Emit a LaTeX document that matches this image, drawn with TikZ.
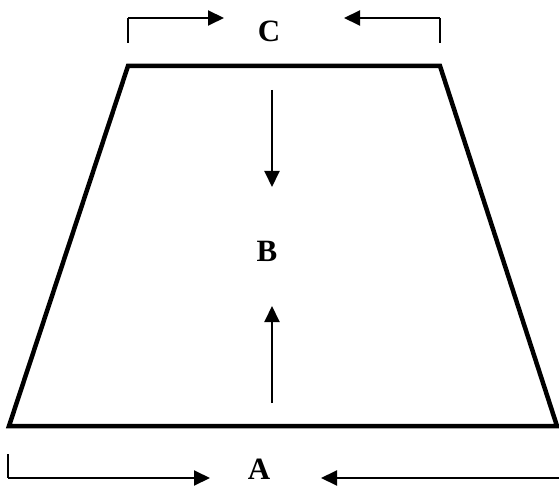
\documentclass[tikz,border=0pt]{standalone}
\usepackage{fontspec}
\setmainfont{Liberation Serif}
\usetikzlibrary{arrows.meta}
\begin{document}
\begin{tikzpicture}[x=1pt,y=-1pt,
  trap/.style={line width=4.5pt,line join=miter},
  arr/.style={line width=2pt,-{Triangle[length=16pt,width=15pt]}},
  brk/.style={line width=1.6pt},
  lbl/.style={font=\fontsize{31}{33}\selectfont\bfseries,inner sep=0pt}]
\useasboundingbox (0,0) rectangle (559,486);
% trapezoid
\coordinate (tl) at (128,66);
\coordinate (tr) at (440,66);
\coordinate (br) at (557,426);
\coordinate (bl) at (9,426);
\draw[trap] (tl) -- (tr) -- (br) -- (bl) -- cycle;
% labels
\node[lbl] (C) at (269,31) {C};
\node[lbl] (B) at (267,251) {B};
\node[lbl] (A) at (259,469) {A};
% top bracket
\coordinate (c1) at (128,43);
\coordinate (c1t) at (128,18);
\coordinate (c1e) at (224,18);
\coordinate (c2) at (440,43);
\coordinate (c2t) at (440,18);
\coordinate (c2e) at (344,18);
\draw[brk] (c1) -- (c1t);
\draw[arr] (c1t) -- (c1e);
\draw[brk] (c2) -- (c2t);
\draw[arr] (c2t) -- (c2e);
% bottom bracket
\coordinate (a1) at (8,454);
\coordinate (a1b) at (8,478);
\coordinate (a1e) at (210,478);
\coordinate (a2) at (560,478);
\coordinate (a2e) at (321,478);
\draw[brk] (a1) -- (a1b);
\draw[arr] (a1b) -- (a1e);
\draw[arr] (a2) -- (a2e);
% middle arrows
\coordinate (d1) at (272,90);
\coordinate (d1e) at (272,187);
\coordinate (u1) at (272,403);
\coordinate (u1e) at (272,306);
\draw[arr] (d1) -- (d1e);
\draw[arr] (u1) -- (u1e);
\end{tikzpicture}
\end{document}
